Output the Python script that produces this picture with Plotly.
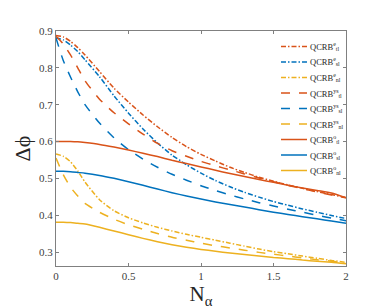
import plotly.graph_objects as go

# x grid (N_alpha)
n_alpha = [0, 0.05, 0.1, 0.15, 0.2, 0.3, 0.4, 0.5, 0.6, 0.7, 0.8, 0.9, 1.0,
           1.1, 1.2, 1.3, 1.4, 1.5, 1.6, 1.7, 1.8, 1.9, 2.0]

# QCRB^e (dash-dot)
e_tl = [0.888, 0.884, 0.872, 0.855, 0.835, 0.790, 0.745, 0.707, 0.672, 0.640, 0.611, 0.586,
        0.565, 0.547, 0.530, 0.516, 0.503, 0.492, 0.482, 0.473, 0.464, 0.456, 0.448]
e_sl = [0.881, 0.876, 0.862, 0.844, 0.822, 0.776, 0.724, 0.677, 0.634, 0.596, 0.563, 0.537,
        0.514, 0.494, 0.477, 0.462, 0.449, 0.437, 0.427, 0.417, 0.408, 0.399, 0.391]
e_nl = [0.566, 0.560, 0.545, 0.520, 0.490, 0.442, 0.412, 0.393, 0.379, 0.367, 0.357, 0.348,
        0.340, 0.332, 0.324, 0.316, 0.308, 0.301, 0.295, 0.289, 0.283, 0.277, 0.272]

# QCRB^ys (dashed)
ys_tl = [0.886, 0.865, 0.835, 0.800, 0.765, 0.715, 0.678, 0.648, 0.620, 0.595, 0.575, 0.560,
         0.546, 0.534, 0.523, 0.512, 0.501, 0.491, 0.481, 0.472, 0.463, 0.455, 0.447]
ys_sl = [0.881, 0.820, 0.775, 0.735, 0.700, 0.650, 0.610, 0.578, 0.552, 0.530, 0.511, 0.495,
         0.480, 0.467, 0.455, 0.444, 0.434, 0.425, 0.416, 0.408, 0.400, 0.392, 0.385]
ys_nl = [0.555, 0.510, 0.476, 0.452, 0.432, 0.408, 0.389, 0.374, 0.362, 0.350, 0.340, 0.332,
         0.324, 0.317, 0.311, 0.305, 0.299, 0.294, 0.289, 0.284, 0.279, 0.275, 0.270]

# QCRB^o (solid)
o_tl = [0.600, 0.600, 0.600, 0.599, 0.597, 0.592, 0.585, 0.577, 0.568, 0.559, 0.549, 0.540,
        0.531, 0.522, 0.513, 0.505, 0.497, 0.489, 0.481, 0.474, 0.467, 0.460, 0.447]
o_sl = [0.519, 0.519, 0.518, 0.516, 0.514, 0.508, 0.500, 0.491, 0.481, 0.471, 0.461, 0.452,
        0.444, 0.436, 0.429, 0.422, 0.415, 0.408, 0.402, 0.396, 0.390, 0.384, 0.378]
o_nl = [0.381, 0.381, 0.380, 0.378, 0.376, 0.367, 0.357, 0.347, 0.337, 0.328, 0.320, 0.313,
        0.307, 0.302, 0.297, 0.293, 0.289, 0.285, 0.282, 0.278, 0.275, 0.272, 0.268]

x_ticks = [0, 0.5, 1, 1.5, 2]
x_tick_labels = ["0", "0.5", "1", "1.5", "2"]
y_ticks = [0.3, 0.4, 0.5, 0.6, 0.7, 0.8, 0.9]
y_tick_labels = ["0.3", "0.4", "0.5", "0.6", "0.7", "0.8", "0.9"]

C_TL = "#D95319"
C_SL = "#0072BD"
C_NL = "#EDB120"
DASHDOT = "5px,2px,1.5px,2px"

series = [
    ("QCRB<sup>e</sup><sub>tl</sub>", e_tl, C_TL, DASHDOT),
    ("QCRB<sup>e</sup><sub>sl</sub>", e_sl, C_SL, DASHDOT),
    ("QCRB<sup>e</sup><sub>nl</sub>", e_nl, C_NL, DASHDOT),
    ("QCRB<sup>ys</sup><sub>tl</sub>", ys_tl, C_TL, "dash"),
    ("QCRB<sup>ys</sup><sub>sl</sub>", ys_sl, C_SL, "dash"),
    ("QCRB<sup>ys</sup><sub>nl</sub>", ys_nl, C_NL, "dash"),
    ("QCRB<sup>o</sup><sub>tl</sub>", o_tl, C_TL, "solid"),
    ("QCRB<sup>o</sup><sub>sl</sub>", o_sl, C_SL, "solid"),
    ("QCRB<sup>o</sup><sub>nl</sub>", o_nl, C_NL, "solid"),
]

serif = "Liberation Serif"

# plot area geometry (px) used to place the compact legend in paper coordinates
W, H = 374, 308
ML, MR, MT, MB = 48, 36, 23, 50
PW, PH = W - ML - MR, H - MT - MB


def px_x(px):
    return (px - ML) / PW


def px_y(py):
    return (H - MB - py) / PH


fig = go.Figure()
shapes = []
annotations = []
for i, (name, ys, col, dash) in enumerate(series):
    fig.add_trace(go.Scatter(x=n_alpha, y=ys, mode="lines", name=name, showlegend=False,
                             line=dict(color=col, width=1.5, dash=dash, shape="spline", smoothing=0.6)))
    # compact legend entry (legend box, not data)
    yy = px_y(38.5 + 15.5 * i)
    shapes.append(dict(type="line", xref="paper", yref="paper",
                       x0=px_x(273), x1=px_x(299), y0=yy, y1=yy,
                       line=dict(color=col, width=1.5, dash=dash)))
    annotations.append(dict(xref="paper", yref="paper", x=px_x(300), y=yy,
                            xanchor="left", yanchor="middle", showarrow=False,
                            text=name, font=dict(family=serif, size=8.5, color="#262626")))

fig.update_layout(
    width=W, height=H,
    margin=dict(l=ML, r=MR, t=MT, b=MB),
    paper_bgcolor="white", plot_bgcolor="white",
    font=dict(family=serif, color="#262626", size=11),
    showlegend=False,
    shapes=shapes,
    annotations=annotations,
    xaxis=dict(range=[0, 2], tickvals=x_ticks, ticktext=x_tick_labels,
               ticks="inside", ticklen=3, tickcolor="#808080",
               showline=True, linecolor="#808080", linewidth=1, mirror="ticks",
               showgrid=False, zeroline=False,
               tickfont=dict(family=serif, size=11, color="#404040"),
               title=dict(text="N<sub>α</sub>", font=dict(family=serif, size=21, color="#262626"),
                          standoff=4)),
    yaxis=dict(range=[0.262, 0.9], tickvals=y_ticks, ticktext=y_tick_labels,
               ticks="inside", ticklen=3, tickcolor="#808080",
               showline=True, linecolor="#808080", linewidth=1, mirror="ticks",
               showgrid=False, zeroline=False,
               tickfont=dict(family=serif, size=11, color="#404040"),
               title=dict(text="Δϕ", font=dict(family=serif, size=22, color="#262626"),
                          standoff=2)),
)

fig.write_html("out.html")
